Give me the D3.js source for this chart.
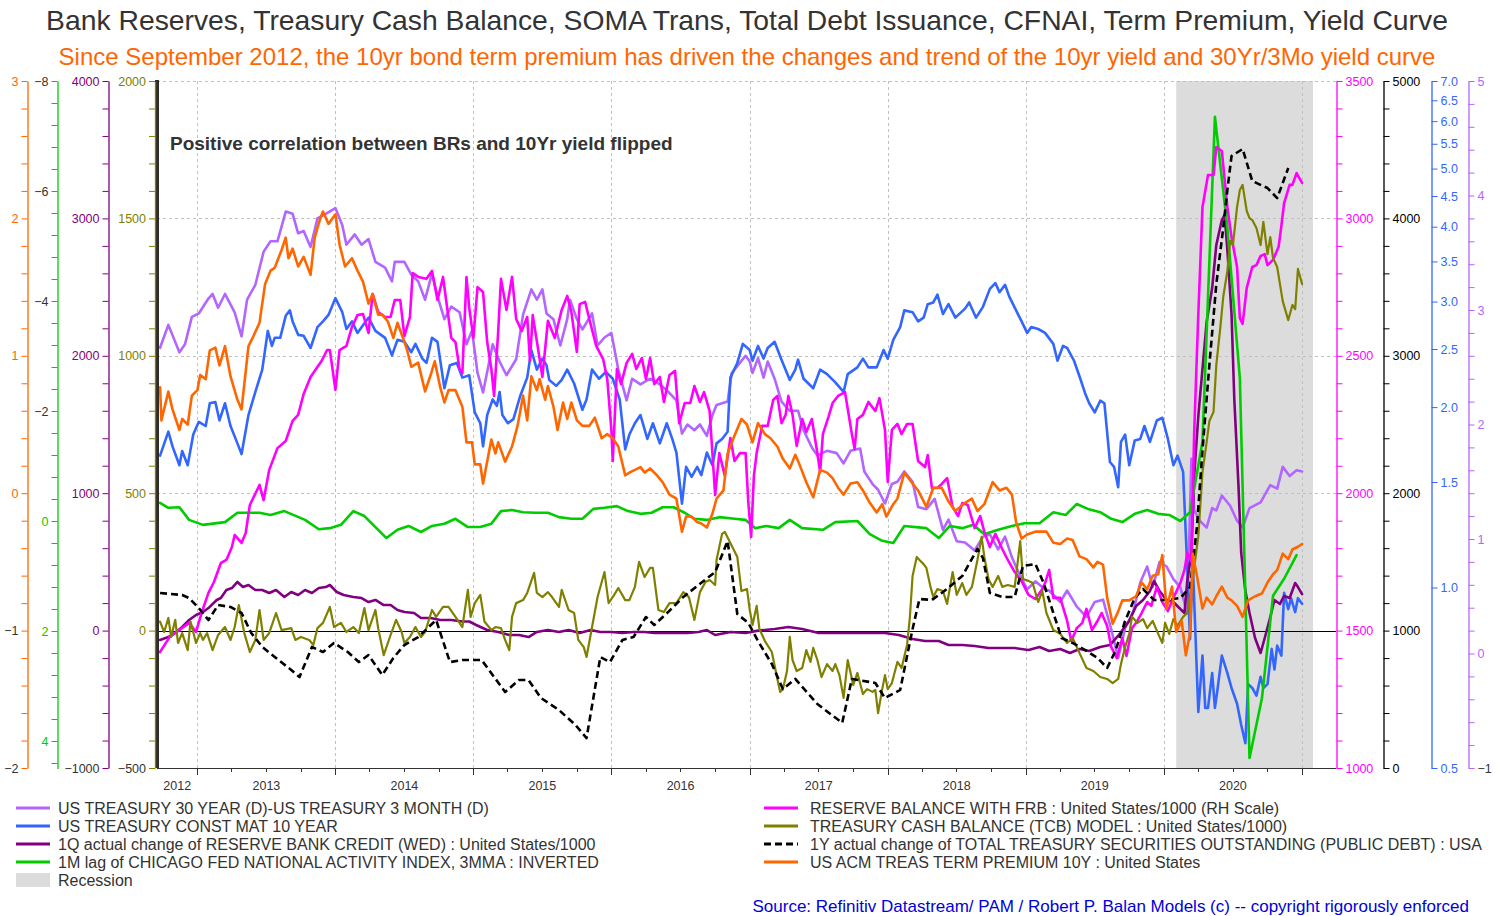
<!DOCTYPE html>
<html><head><meta charset="utf-8">
<script src="https://cdn.jsdelivr.net/npm/d3@7"></script>
<style>body{margin:0;background:#fff} svg text{font-family:"Liberation Sans",Arial,Helvetica,sans-serif}</style>
</head><body><svg id="chart" width="1495" height="916"></svg>
<script>
// ---------------- DATA (decimal year, value) ----------------
const yieldCurve30y3m = [[2012.73,2.67],[2012.79,2.87],[2012.87,2.63],[2012.91,2.70],[2012.96,2.94],[2013.01,2.97],[2013.08,3.10],[2013.11,3.14],[2013.15,3.02],[2013.20,3.14],[2013.27,2.98],[2013.32,2.77],[2013.36,3.09],[2013.42,3.22],[2013.48,3.51],[2013.53,3.60],[2013.58,3.60],[2013.64,3.86],[2013.69,3.84],[2013.73,3.67],[2013.77,3.69],[2013.82,3.55],[2013.87,3.80],[2013.93,3.84],[2014.00,3.89],[2014.05,3.74],[2014.08,3.57],[2014.14,3.66],[2014.19,3.57],[2014.24,3.62],[2014.29,3.42],[2014.36,3.37],[2014.41,3.25],[2014.43,3.42],[2014.50,3.42],[2014.55,3.31],[2014.60,3.25],[2014.65,3.09],[2014.70,3.32],[2014.74,3.12],[2014.79,2.92],[2014.84,3.03],[2014.90,2.98],[2014.95,2.70],[2014.99,2.82],[2015.03,2.45],[2015.07,2.28],[2015.14,2.70],[2015.19,2.55],[2015.24,2.43],[2015.31,2.57],[2015.36,2.96],[2015.42,3.18],[2015.46,3.09],[2015.50,3.18],[2015.53,2.97],[2015.58,2.92],[2015.63,2.69],[2015.68,2.92],[2015.70,3.09],[2015.75,2.92],[2015.79,2.83],[2015.86,2.97],[2015.90,2.69],[2015.95,2.76],[2016.00,2.80],[2016.05,2.48],[2016.11,2.21],[2016.15,2.40],[2016.21,2.35],[2016.28,2.40],[2016.35,2.35],[2016.40,2.30],[2016.47,2.21],[2016.51,1.92],[2016.55,2.00],[2016.60,1.95],[2016.64,2.00],[2016.69,1.90],[2016.73,2.08],[2016.76,2.17],[2016.84,2.20],[2016.87,2.45],[2016.93,2.54],[2016.97,2.60],[2017.00,2.55],[2017.02,2.45],[2017.06,2.58],[2017.10,2.41],[2017.13,2.55],[2017.18,2.40],[2017.23,2.20],[2017.29,2.12],[2017.35,2.12],[2017.39,1.95],[2017.45,1.80],[2017.49,1.73],[2017.56,1.77],[2017.63,1.75],[2017.68,1.66],[2017.73,1.77],[2017.80,1.79],[2017.83,1.59],[2017.89,1.48],[2017.93,1.43],[2017.98,1.31],[2018.03,1.48],[2018.07,1.50],[2018.12,1.59],[2018.18,1.50],[2018.22,1.28],[2018.28,1.26],[2018.34,1.35],[2018.40,1.08],[2018.44,1.17],[2018.50,0.98],[2018.56,0.97],[2018.63,0.90],[2018.69,1.02],[2018.74,1.04],[2018.80,0.91],[2018.85,1.02],[2018.90,0.84],[2018.94,0.73],[2019.01,0.56],[2019.07,0.63],[2019.14,0.56],[2019.17,0.55],[2019.25,0.45],[2019.30,0.55],[2019.37,0.41],[2019.44,0.32],[2019.50,0.45],[2019.56,0.47],[2019.62,0.21],[2019.67,-0.04],[2019.72,0.22],[2019.78,0.37],[2019.83,0.62],[2019.88,0.76],[2019.92,0.58],[2019.97,0.80],[2020.02,0.76],[2020.07,0.65],[2020.12,0.58],[2020.17,0.35],[2020.20,1.70],[2020.22,1.25],[2020.26,1.16],[2020.31,1.10],[2020.35,1.27],[2020.38,1.25],[2020.42,1.38],[2020.48,1.29],[2020.53,1.16],[2020.57,1.10],[2020.62,1.27],[2020.70,1.32],[2020.77,1.47],[2020.82,1.44],[2020.86,1.63],[2020.91,1.55],[2020.96,1.60],[2021.00,1.59]];

const ust10y = [[2012.73,1.66],[2012.79,1.82],[2012.82,1.72],[2012.87,1.60],[2012.89,1.69],[2012.93,1.60],[2012.97,1.80],[2013.01,1.89],[2013.06,1.86],[2013.09,2.03],[2013.13,2.04],[2013.16,1.90],[2013.20,2.03],[2013.24,1.86],[2013.29,1.74],[2013.32,1.67],[2013.37,1.94],[2013.42,2.12],[2013.47,2.31],[2013.51,2.68],[2013.54,2.53],[2013.56,2.61],[2013.60,2.61],[2013.64,2.84],[2013.67,2.90],[2013.69,2.78],[2013.73,2.64],[2013.77,2.63],[2013.82,2.51],[2013.87,2.72],[2013.91,2.78],[2013.95,2.85],[2014.00,3.04],[2014.05,2.88],[2014.08,2.70],[2014.12,2.78],[2014.16,2.66],[2014.20,2.74],[2014.24,2.82],[2014.29,2.68],[2014.36,2.61],[2014.41,2.44],[2014.45,2.59],[2014.50,2.57],[2014.55,2.47],[2014.58,2.55],[2014.63,2.41],[2014.66,2.37],[2014.70,2.61],[2014.74,2.57],[2014.79,2.15],[2014.83,2.35],[2014.88,2.37],[2014.92,2.24],[2014.97,2.26],[2015.01,1.96],[2015.05,1.88],[2015.07,1.72],[2015.10,1.94],[2015.14,2.06],[2015.17,2.01],[2015.19,2.12],[2015.21,1.94],[2015.25,1.88],[2015.29,1.91],[2015.34,2.09],[2015.39,2.24],[2015.42,2.49],[2015.46,2.31],[2015.50,2.41],[2015.53,2.35],[2015.55,2.22],[2015.60,2.17],[2015.64,2.22],[2015.68,2.31],[2015.73,2.19],[2015.79,1.98],[2015.82,2.06],[2015.86,2.31],[2015.91,2.23],[2015.96,2.29],[2016.01,2.23],[2016.06,2.06],[2016.10,1.70],[2016.13,1.80],[2016.17,1.88],[2016.21,1.94],[2016.26,1.77],[2016.30,1.88],[2016.35,1.74],[2016.40,1.88],[2016.44,1.77],[2016.47,1.68],[2016.51,1.38],[2016.54,1.59],[2016.58,1.53],[2016.62,1.59],[2016.65,1.54],[2016.69,1.68],[2016.73,1.60],[2016.76,1.74],[2016.80,1.77],[2016.84,1.82],[2016.86,2.24],[2016.91,2.37],[2016.95,2.55],[2017.00,2.49],[2017.02,2.39],[2017.06,2.53],[2017.10,2.41],[2017.13,2.51],[2017.18,2.57],[2017.23,2.40],[2017.29,2.22],[2017.33,2.31],[2017.35,2.40],[2017.39,2.23],[2017.46,2.15],[2017.51,2.31],[2017.56,2.27],[2017.62,2.20],[2017.68,2.12],[2017.71,2.27],[2017.78,2.33],[2017.82,2.41],[2017.86,2.33],[2017.92,2.33],[2017.97,2.49],[2018.00,2.41],[2018.04,2.59],[2018.09,2.72],[2018.12,2.90],[2018.18,2.88],[2018.22,2.78],[2018.26,2.82],[2018.29,2.97],[2018.33,2.99],[2018.36,3.08],[2018.40,2.86],[2018.44,2.97],[2018.49,2.82],[2018.56,2.92],[2018.59,2.99],[2018.64,2.82],[2018.69,2.94],[2018.74,3.15],[2018.78,3.22],[2018.81,3.11],[2018.85,3.20],[2018.88,3.06],[2018.93,2.90],[2018.97,2.78],[2019.01,2.66],[2019.04,2.72],[2019.09,2.70],[2019.14,2.66],[2019.20,2.55],[2019.23,2.39],[2019.27,2.53],[2019.30,2.51],[2019.35,2.39],[2019.39,2.25],[2019.43,2.11],[2019.46,2.03],[2019.50,1.96],[2019.54,2.05],[2019.57,2.03],[2019.61,1.62],[2019.64,1.59],[2019.67,1.47],[2019.69,1.75],[2019.72,1.80],[2019.75,1.60],[2019.79,1.76],[2019.83,1.77],[2019.86,1.86],[2019.90,1.75],[2019.95,1.90],[2019.99,1.92],[2020.03,1.77],[2020.07,1.60],[2020.10,1.66],[2020.14,1.56],[2020.17,1.08],[2020.19,0.82],[2020.21,1.10],[2020.25,0.62],[2020.28,0.77],[2020.30,0.63],[2020.32,0.63],[2020.35,0.72],[2020.37,0.63],[2020.39,0.68],[2020.42,0.77],[2020.46,0.72],[2020.49,0.68],[2020.53,0.64],[2020.56,0.59],[2020.59,0.55],[2020.61,0.69],[2020.64,0.68],[2020.67,0.66],[2020.70,0.71],[2020.72,0.68],[2020.75,0.69],[2020.78,0.79],[2020.80,0.73],[2020.82,0.80],[2020.85,0.77],[2020.87,0.98],[2020.90,0.92],[2020.92,0.96],[2020.95,0.91],[2020.97,0.96],[2021.00,0.94]];

const reserveBankCredit1Q = [[2012.73,-68],[2012.79,-47],[2012.84,-17],[2012.89,26],[2012.94,77],[2012.99,114],[2013.04,135],[2013.08,164],[2013.14,223],[2013.17,237],[2013.21,295],[2013.25,310],[2013.29,354],[2013.33,317],[2013.37,332],[2013.42,295],[2013.47,295],[2013.52,274],[2013.57,295],[2013.63,245],[2013.68,281],[2013.73,259],[2013.78,295],[2013.83,274],[2013.88,310],[2013.93,317],[2013.96,332],[2014.01,281],[2014.06,259],[2014.13,245],[2014.19,237],[2014.24,208],[2014.29,223],[2014.35,186],[2014.40,186],[2014.45,150],[2014.50,135],[2014.57,128],[2014.62,92],[2014.69,92],[2014.76,77],[2014.84,77],[2014.92,66],[2014.97,66],[2015.02,41],[2015.10,4],[2015.18,-10],[2015.26,-32],[2015.33,-32],[2015.40,-47],[2015.46,-10],[2015.54,4],[2015.62,-10],[2015.69,4],[2015.77,-17],[2015.85,4],[2015.92,-10],[2016.00,-10],[2016.08,-17],[2016.16,-10],[2016.24,-10],[2016.31,-17],[2016.39,-17],[2016.47,-17],[2016.55,-17],[2016.63,-10],[2016.69,4],[2016.75,-32],[2016.86,-10],[2016.97,-17],[2017.06,0],[2017.18,12],[2017.28,26],[2017.38,12],[2017.50,-17],[2017.62,-17],[2017.74,-17],[2017.86,-17],[2017.98,-17],[2018.08,-32],[2018.18,-61],[2018.27,-76],[2018.37,-76],[2018.44,-105],[2018.54,-105],[2018.63,-112],[2018.73,-127],[2018.83,-127],[2018.92,-127],[2019.02,-141],[2019.10,-119],[2019.17,-148],[2019.25,-134],[2019.32,-163],[2019.39,-134],[2019.46,-148],[2019.54,-119],[2019.61,-105],[2019.68,-25],[2019.75,70],[2019.80,179],[2019.85,223],[2019.90,288],[2019.93,361],[2019.97,288],[2020.02,223],[2020.07,208],[2020.12,157],[2020.15,128],[2020.17,361],[2020.20,565],[2020.22,1125],[2020.25,1562],[2020.28,1904],[2020.31,2246],[2020.35,2493],[2020.38,2806],[2020.42,2988],[2020.44,3025],[2020.46,2770],[2020.49,2304],[2020.51,1686],[2020.54,1060],[2020.56,565],[2020.59,288],[2020.62,128],[2020.66,-54],[2020.70,-163],[2020.73,-54],[2020.77,99],[2020.80,223],[2020.84,194],[2020.87,252],[2020.91,237],[2020.95,346],[2020.97,317],[2021.00,266]];

const cfnai3mmaInv = [[2012.73,-0.33],[2012.79,-0.24],[2012.87,-0.25],[2012.94,-0.02],[2013.04,0.07],[2013.20,0.02],[2013.29,-0.15],[2013.45,-0.15],[2013.53,-0.11],[2013.63,-0.18],[2013.78,-0.02],[2013.88,0.15],[2013.96,0.13],[2014.04,0.07],[2014.13,-0.18],[2014.21,-0.09],[2014.29,0.11],[2014.37,0.31],[2014.45,0.16],[2014.53,0.09],[2014.62,0.20],[2014.70,0.09],[2014.79,0.05],[2014.87,-0.04],[2014.96,0.11],[2015.05,0.11],[2015.13,0.05],[2015.20,-0.18],[2015.28,-0.20],[2015.36,-0.16],[2015.45,-0.15],[2015.54,-0.15],[2015.62,-0.07],[2015.71,-0.04],[2015.79,-0.04],[2015.87,-0.22],[2015.95,-0.24],[2016.04,-0.27],[2016.12,-0.18],[2016.21,-0.13],[2016.29,-0.15],[2016.37,-0.25],[2016.45,-0.25],[2016.53,-0.15],[2016.60,-0.04],[2016.69,-0.02],[2016.78,-0.07],[2016.89,-0.04],[2016.97,-0.02],[2017.04,0.13],[2017.12,0.09],[2017.21,0.13],[2017.29,-0.02],[2017.38,0.13],[2017.53,0.16],[2017.62,0.02],[2017.78,0.00],[2017.87,0.24],[2017.96,0.36],[2018.04,0.40],[2018.12,0.09],[2018.28,0.13],[2018.37,0.31],[2018.45,0.09],[2018.54,0.13],[2018.62,0.07],[2018.70,0.24],[2018.80,0.16],[2018.90,0.09],[2018.99,0.04],[2019.10,0.04],[2019.20,-0.16],[2019.29,-0.11],[2019.37,-0.31],[2019.45,-0.22],[2019.54,-0.16],[2019.62,-0.04],[2019.70,0.02],[2019.79,-0.13],[2019.88,-0.20],[2019.96,-0.13],[2020.04,-0.11],[2020.12,0.00],[2020.19,-0.16],[2020.28,-1.44],[2020.37,-7.35],[2020.46,-5.33],[2020.55,-2.60],[2020.62,4.31],[2020.71,3.22],[2020.79,1.36],[2020.87,1.05],[2020.96,0.62]];

const reserveBalances = [[2012.73,1422],[2012.80,1477],[2012.87,1502],[2012.94,1528],[2012.99,1495],[2013.03,1564],[2013.08,1637],[2013.12,1677],[2013.17,1746],[2013.21,1757],[2013.25,1804],[2013.27,1848],[2013.32,1819],[2013.35,1855],[2013.38,1957],[2013.45,2030],[2013.48,1975],[2013.52,2084],[2013.58,2164],[2013.64,2190],[2013.69,2263],[2013.73,2285],[2013.77,2361],[2013.82,2423],[2013.87,2459],[2013.90,2481],[2013.94,2521],[2013.96,2521],[2014.00,2376],[2014.03,2521],[2014.08,2536],[2014.12,2605],[2014.16,2648],[2014.20,2652],[2014.24,2583],[2014.27,2725],[2014.31,2659],[2014.36,2641],[2014.40,2641],[2014.43,2703],[2014.47,2703],[2014.50,2572],[2014.54,2641],[2014.56,2801],[2014.60,2787],[2014.66,2780],[2014.70,2809],[2014.74,2703],[2014.78,2787],[2014.81,2674],[2014.84,2565],[2014.87,2550],[2014.90,2452],[2014.92,2437],[2014.95,2787],[2014.97,2674],[2015.00,2565],[2015.03,2750],[2015.07,2732],[2015.10,2550],[2015.13,2452],[2015.15,2354],[2015.18,2590],[2015.20,2780],[2015.24,2667],[2015.28,2787],[2015.31,2634],[2015.35,2590],[2015.39,2641],[2015.41,2481],[2015.43,2648],[2015.47,2521],[2015.50,2423],[2015.54,2627],[2015.59,2565],[2015.64,2667],[2015.68,2718],[2015.71,2659],[2015.75,2514],[2015.77,2688],[2015.81,2696],[2015.84,2634],[2015.89,2536],[2015.94,2488],[2015.97,2416],[2016.00,2230],[2016.01,2117],[2016.04,2452],[2016.07,2397],[2016.11,2474],[2016.15,2507],[2016.18,2452],[2016.22,2492],[2016.25,2416],[2016.28,2492],[2016.31,2397],[2016.35,2423],[2016.38,2332],[2016.42,2430],[2016.46,2445],[2016.49,2255],[2016.53,2328],[2016.57,2328],[2016.60,2390],[2016.64,2332],[2016.67,2368],[2016.71,2299],[2016.75,1993],[2016.78,2146],[2016.82,2063],[2016.86,2201],[2016.89,2117],[2016.93,2146],[2016.97,2146],[2016.99,1964],[2017.01,1841],[2017.03,2063],[2017.05,2146],[2017.09,2245],[2017.13,2245],[2017.17,2339],[2017.20,2354],[2017.23,2255],[2017.26,2285],[2017.28,2354],[2017.31,2285],[2017.34,2172],[2017.38,2270],[2017.41,2223],[2017.45,2270],[2017.49,2146],[2017.51,2077],[2017.53,2215],[2017.57,2277],[2017.60,2328],[2017.64,2354],[2017.69,2368],[2017.74,2215],[2017.76,2161],[2017.78,2270],[2017.82,2285],[2017.86,2332],[2017.91,2299],[2017.94,2346],[2017.98,2230],[2018.00,2041],[2018.03,2230],[2018.07,2252],[2018.10,2215],[2018.14,2252],[2018.18,2252],[2018.22,2117],[2018.27,2095],[2018.29,2139],[2018.32,2019],[2018.36,2019],[2018.39,2033],[2018.43,2055],[2018.47,1950],[2018.51,1917],[2018.54,1964],[2018.58,1957],[2018.63,1873],[2018.67,1917],[2018.70,1859],[2018.74,1804],[2018.78,1852],[2018.83,1797],[2018.87,1757],[2018.92,1713],[2018.97,1680],[2019.02,1630],[2019.07,1615],[2019.12,1651],[2019.14,1673],[2019.17,1721],[2019.20,1619],[2019.25,1619],[2019.30,1535],[2019.33,1462],[2019.37,1509],[2019.41,1528],[2019.44,1579],[2019.48,1502],[2019.52,1535],[2019.55,1564],[2019.59,1517],[2019.62,1440],[2019.66,1400],[2019.70,1473],[2019.73,1408],[2019.77,1509],[2019.80,1528],[2019.84,1564],[2019.88,1604],[2019.91,1590],[2019.95,1659],[2019.99,1604],[2020.03,1571],[2020.07,1619],[2020.12,1673],[2020.15,1721],[2020.17,1782],[2020.20,1750],[2020.22,2219],[2020.25,2652],[2020.28,3041],[2020.32,3158],[2020.36,3158],[2020.38,3260],[2020.42,3245],[2020.46,3041],[2020.49,2932],[2020.53,2823],[2020.55,2638],[2020.57,2616],[2020.60,2747],[2020.64,2823],[2020.67,2830],[2020.70,2863],[2020.73,2870],[2020.75,2830],[2020.79,2849],[2020.83,2896],[2020.85,2972],[2020.87,3056],[2020.91,3122],[2020.93,3122],[2020.96,3165],[2021.00,3129]];

const treasuryCashModel = [[2012.73,33],[2012.76,-5],[2012.79,46],[2012.81,-23],[2012.84,39],[2012.86,-45],[2012.89,-9],[2012.93,-71],[2012.95,33],[2012.99,-45],[2013.02,-9],[2013.04,-34],[2013.07,-9],[2013.11,-71],[2013.15,-16],[2013.20,13],[2013.24,-34],[2013.27,13],[2013.30,93],[2013.34,-9],[2013.38,-78],[2013.42,-34],[2013.45,75],[2013.48,-34],[2013.52,-9],[2013.57,64],[2013.61,2],[2013.68,9],[2013.71,-34],[2013.75,-23],[2013.81,-34],[2013.84,-52],[2013.87,9],[2013.91,28],[2013.96,86],[2013.99,13],[2014.04,28],[2014.08,-5],[2014.13,13],[2014.17,-9],[2014.21,82],[2014.24,2],[2014.29,75],[2014.31,9],[2014.35,-89],[2014.40,-16],[2014.44,39],[2014.48,-5],[2014.50,-45],[2014.54,-23],[2014.58,13],[2014.62,-23],[2014.65,-5],[2014.70,75],[2014.73,50],[2014.78,86],[2014.82,86],[2014.87,50],[2014.92,13],[2014.96,148],[2014.98,50],[2015.01,100],[2015.05,130],[2015.08,33],[2015.13,2],[2015.16,13],[2015.20,9],[2015.23,-34],[2015.26,-71],[2015.28,50],[2015.31,100],[2015.36,111],[2015.39,137],[2015.44,210],[2015.46,137],[2015.50,122],[2015.54,140],[2015.57,122],[2015.62,86],[2015.64,148],[2015.69,75],[2015.73,64],[2015.76,-34],[2015.80,-60],[2015.82,-96],[2015.86,13],[2015.90,122],[2015.95,213],[2015.98,100],[2016.02,130],[2016.05,155],[2016.10,111],[2016.13,111],[2016.17,159],[2016.20,250],[2016.24,195],[2016.28,228],[2016.30,228],[2016.34,75],[2016.38,68],[2016.42,100],[2016.47,100],[2016.52,140],[2016.56,122],[2016.60,39],[2016.64,140],[2016.68,177],[2016.71,184],[2016.75,166],[2016.76,257],[2016.80,352],[2016.82,359],[2016.86,319],[2016.91,268],[2016.94,144],[2016.98,151],[2017.00,75],[2017.02,20],[2017.05,90],[2017.07,6],[2017.11,-38],[2017.16,-78],[2017.20,-176],[2017.22,-223],[2017.24,-213],[2017.27,-147],[2017.29,-23],[2017.31,-107],[2017.34,-147],[2017.38,-136],[2017.41,-71],[2017.44,-114],[2017.46,-63],[2017.49,-107],[2017.52,-169],[2017.56,-122],[2017.60,-147],[2017.62,-122],[2017.65,-162],[2017.68,-245],[2017.71,-107],[2017.75,-198],[2017.78,-154],[2017.82,-231],[2017.85,-213],[2017.89,-223],[2017.91,-216],[2017.93,-300],[2017.96,-213],[2017.98,-162],[2018.00,-213],[2018.03,-191],[2018.07,-114],[2018.10,-136],[2018.14,-52],[2018.16,46],[2018.18,199],[2018.21,268],[2018.23,257],[2018.26,242],[2018.28,228],[2018.31,159],[2018.33,122],[2018.36,151],[2018.40,144],[2018.43,97],[2018.47,213],[2018.50,130],[2018.54,173],[2018.57,130],[2018.61,159],[2018.65,257],[2018.68,341],[2018.70,268],[2018.73,188],[2018.76,159],[2018.80,199],[2018.83,159],[2018.87,166],[2018.92,159],[2018.96,326],[2018.98,188],[2019.02,181],[2019.05,173],[2019.09,104],[2019.12,144],[2019.15,64],[2019.20,2],[2019.25,-12],[2019.30,-45],[2019.34,-27],[2019.39,-82],[2019.44,-136],[2019.49,-147],[2019.54,-169],[2019.59,-176],[2019.63,-191],[2019.67,-176],[2019.69,-122],[2019.72,-60],[2019.75,-12],[2019.77,50],[2019.81,28],[2019.85,42],[2019.88,9],[2019.92,35],[2019.96,-12],[2019.99,-45],[2020.01,28],[2020.04,-12],[2020.07,42],[2020.10,17],[2020.14,50],[2020.17,64],[2020.21,188],[2020.25,344],[2020.28,577],[2020.31,686],[2020.33,763],[2020.36,796],[2020.38,967],[2020.41,1108],[2020.43,1214],[2020.46,1309],[2020.48,1418],[2020.50,1403],[2020.53,1541],[2020.55,1603],[2020.57,1622],[2020.60,1527],[2020.62,1501],[2020.64,1494],[2020.67,1465],[2020.70,1403],[2020.72,1487],[2020.75,1370],[2020.77,1432],[2020.79,1356],[2020.82,1323],[2020.84,1261],[2020.86,1199],[2020.90,1130],[2020.93,1185],[2020.95,1170],[2020.97,1316],[2021.00,1261]];

const publicDebt1Y = [[2012.73,1274],[2012.89,1259],[2012.94,1237],[2013.01,1164],[2013.08,1077],[2013.15,1186],[2013.24,1172],[2013.32,1128],[2013.39,983],[2013.47,881],[2013.57,801],[2013.68,713],[2013.74,662],[2013.83,881],[2013.91,844],[2013.99,910],[2014.09,844],[2014.17,771],[2014.24,822],[2014.34,677],[2014.42,801],[2014.50,895],[2014.60,953],[2014.73,1077],[2014.83,771],[2014.92,786],[2015.06,786],[2015.23,553],[2015.33,640],[2015.40,640],[2015.49,509],[2015.62,422],[2015.74,313],[2015.82,218],[2015.92,808],[2015.99,771],[2016.08,932],[2016.16,953],[2016.25,1099],[2016.31,1041],[2016.41,1135],[2016.52,1245],[2016.63,1332],[2016.75,1426],[2016.84,1652],[2016.91,1121],[2016.99,1055],[2017.06,924],[2017.16,757],[2017.24,575],[2017.33,648],[2017.49,466],[2017.67,328],[2017.74,648],[2017.91,619],[2017.98,509],[2018.09,568],[2018.18,1012],[2018.23,1230],[2018.32,1223],[2018.41,1288],[2018.54,1397],[2018.65,1594],[2018.69,1528],[2018.74,1274],[2018.83,1245],[2018.92,1245],[2018.98,1470],[2019.07,1485],[2019.13,1346],[2019.20,1128],[2019.26,946],[2019.34,910],[2019.44,852],[2019.52,801],[2019.59,728],[2019.65,852],[2019.72,1070],[2019.79,1237],[2019.85,1303],[2019.93,1223],[2020.02,1223],[2020.12,1237],[2020.19,1317],[2020.24,1754],[2020.28,2314],[2020.33,2933],[2020.38,3522],[2020.43,3930],[2020.46,4207],[2020.49,4454],[2020.57,4505],[2020.64,4272],[2020.75,4221],[2020.82,4148],[2020.90,4367]];

const termPremium10y = [[2012.73,0.77],[2012.74,0.53],[2012.79,0.74],[2012.82,0.61],[2012.87,0.46],[2012.89,0.54],[2012.93,0.50],[2012.96,0.71],[2013.00,0.75],[2013.02,0.86],[2013.06,0.83],[2013.09,1.04],[2013.13,1.06],[2013.16,0.93],[2013.20,1.07],[2013.24,0.85],[2013.29,0.68],[2013.32,0.61],[2013.37,1.07],[2013.40,1.13],[2013.45,1.24],[2013.49,1.52],[2013.53,1.62],[2013.56,1.64],[2013.61,1.77],[2013.64,1.86],[2013.66,1.71],[2013.69,1.78],[2013.73,1.65],[2013.77,1.72],[2013.82,1.59],[2013.85,1.86],[2013.89,2.00],[2013.91,2.05],[2013.95,1.96],[2014.00,2.03],[2014.03,1.81],[2014.07,1.65],[2014.12,1.71],[2014.16,1.62],[2014.20,1.54],[2014.24,1.38],[2014.27,1.45],[2014.31,1.30],[2014.34,1.30],[2014.38,1.25],[2014.42,1.13],[2014.45,1.24],[2014.49,1.13],[2014.52,1.04],[2014.55,0.92],[2014.60,0.95],[2014.65,0.74],[2014.69,0.86],[2014.72,0.96],[2014.76,0.77],[2014.79,0.66],[2014.82,0.75],[2014.87,0.75],[2014.92,0.63],[2014.95,0.37],[2014.99,0.37],[2015.01,0.21],[2015.05,0.21],[2015.07,0.07],[2015.10,0.23],[2015.13,0.39],[2015.16,0.29],[2015.18,0.37],[2015.23,0.23],[2015.28,0.34],[2015.32,0.49],[2015.36,0.71],[2015.39,0.53],[2015.42,0.85],[2015.46,0.75],[2015.48,0.83],[2015.52,0.68],[2015.54,0.78],[2015.58,0.63],[2015.61,0.46],[2015.65,0.66],[2015.68,0.54],[2015.71,0.66],[2015.75,0.53],[2015.79,0.49],[2015.84,0.49],[2015.88,0.55],[2015.93,0.40],[2015.97,0.43],[2016.01,0.40],[2016.05,0.34],[2016.10,0.13],[2016.13,0.15],[2016.17,0.17],[2016.21,0.19],[2016.24,0.15],[2016.28,0.18],[2016.33,0.13],[2016.37,0.08],[2016.42,-0.01],[2016.47,-0.04],[2016.51,-0.28],[2016.54,-0.17],[2016.58,-0.17],[2016.62,-0.21],[2016.65,-0.22],[2016.69,-0.25],[2016.73,-0.15],[2016.76,-0.04],[2016.81,0.02],[2016.84,0.29],[2016.89,0.42],[2016.94,0.54],[2016.98,0.50],[2017.02,0.37],[2017.06,0.51],[2017.11,0.43],[2017.15,0.40],[2017.20,0.34],[2017.24,0.25],[2017.29,0.18],[2017.33,0.28],[2017.36,0.21],[2017.41,0.08],[2017.46,-0.03],[2017.51,0.17],[2017.56,0.15],[2017.60,0.11],[2017.64,0.04],[2017.68,-0.01],[2017.73,0.07],[2017.78,0.08],[2017.82,0.02],[2017.87,-0.07],[2017.92,-0.14],[2017.96,-0.08],[2017.99,-0.17],[2018.04,-0.08],[2018.07,-0.04],[2018.12,0.15],[2018.18,0.07],[2018.22,0.02],[2018.28,-0.10],[2018.33,0.04],[2018.39,0.04],[2018.44,-0.06],[2018.49,-0.13],[2018.56,-0.07],[2018.61,-0.04],[2018.65,-0.13],[2018.70,-0.08],[2018.76,0.08],[2018.81,0.02],[2018.86,0.04],[2018.90,-0.01],[2018.93,-0.21],[2018.97,-0.33],[2019.01,-0.30],[2019.07,-0.28],[2019.15,-0.28],[2019.20,-0.36],[2019.25,-0.37],[2019.30,-0.33],[2019.34,-0.34],[2019.39,-0.46],[2019.44,-0.48],[2019.49,-0.54],[2019.52,-0.50],[2019.56,-0.52],[2019.59,-0.76],[2019.63,-0.95],[2019.67,-0.86],[2019.70,-0.78],[2019.75,-0.78],[2019.80,-0.75],[2019.84,-0.65],[2019.88,-0.70],[2019.92,-0.60],[2019.96,-0.59],[2019.99,-0.45],[2020.02,-0.84],[2020.06,-0.68],[2020.09,-1.01],[2020.13,-0.93],[2020.16,-1.18],[2020.19,-1.02],[2020.21,-0.44],[2020.24,-0.60],[2020.28,-0.84],[2020.31,-0.76],[2020.35,-0.81],[2020.38,-0.75],[2020.42,-0.68],[2020.46,-0.76],[2020.49,-0.78],[2020.53,-0.82],[2020.57,-0.90],[2020.61,-0.78],[2020.66,-0.75],[2020.71,-0.73],[2020.75,-0.65],[2020.79,-0.59],[2020.82,-0.56],[2020.86,-0.44],[2020.90,-0.48],[2020.93,-0.41],[2020.97,-0.39],[2021.00,-0.37]];

const recession = [2020.09, 2021.079];
const timeDomain = [2012.708, 2021.079];
const yearLabels = [2012, 2013, 2014, 2015, 2016, 2017, 2018, 2019, 2020];

// tick label lists
const tpLabels = [3, 2, 1, 0, -1, -2];
const cfnaiLabels = [-8, -6, -4, -2, 0, 2, 4];
const rbcLabels = [4000, 3000, 2000, 1000, 0, -1000];
const tcbLabels = [2000, 1500, 1000, 500, 0, -500];
const rbLabels = [3500, 3000, 2500, 2000, 1500, 1000];
const pdLabels = [5000, 4000, 3000, 2000, 1000, 0];
const ust10Labels = [7.0, 6.5, 6.0, 5.5, 5.0, 4.5, 4.0, 3.5, 3.0, 2.5, 2.0, 1.5, 1.0, 0.5];
const ycLabels = [5, 4, 3, 2, 1, 0, -1];

const title = "Bank Reserves, Treasury Cash Balance, SOMA Trans, Total Debt Issuance, CFNAI, Term Premium, Yield Curve";
const subtitle = "Since September 2012, the 10yr bond term premium has driven the changes and trend of the 10yr yield and 30Yr/3Mo yield curve";
const note = "Positive correlation between BRs and 10Yr yield flipped";
const source = "Source: Refinitiv Datastream/ PAM / Robert P. Balan Models (c) -- copyright rigorously enforced";

// ---------------- CHART ----------------
const C = {lp:"#B266FF", blue:"#3366FF", purple:"#800080", green:"#00CC00", magenta:"#FF00FF", olive:"#808000", black:"#000000", orange:"#FF6600", rec:"#DCDCDC", txt:"#333333"};
const svg = d3.select("#chart");
const T = 81, B = 768, L = 157, R = 1313, RA = 1336;

function dec(t){ const y=Math.floor(t); const a=Date.UTC(y,0,1), b=Date.UTC(y+1,0,1); return new Date(a+(t-y)*(b-a)); }

const x = d3.scaleUtc().domain(timeDomain.map(dec)).range([L, R]);
const yTP = d3.scaleLinear().domain([-2, 3]).range([B, T]);
const yCF = d3.scaleLinear().domain([-8, 4.5]).range([T, B + 0.5]);
const yRBC = d3.scaleLinear().domain([-1000, 4000]).range([B, T]);
const yTCB = d3.scaleLinear().domain([-500, 2000]).range([B, T]);
const yRB = d3.scaleLinear().domain([1000, 3500]).range([B, T]);
const yPD = d3.scaleLinear().domain([0, 5000]).range([B, T]);
const y10 = d3.scaleLog().domain([0.5, 7]).range([B, T]);
const yYC = d3.scaleLinear().domain([-1, 5]).range([B, T]);

// recession band
svg.append("rect").attr("x", x(dec(recession[0]))).attr("y", T)
  .attr("width", x(dec(recession[1])) - x(dec(recession[0]))).attr("height", B - T).attr("fill", C.rec);

// grid
const grid = svg.append("g").attr("stroke", "#c0c0c0").attr("stroke-width", 1).attr("stroke-dasharray", "3,3");
[3500, 3000, 2500, 2000].forEach(v => {
  grid.append("line").attr("x1", L).attr("x2", RA).attr("y1", Math.round(yRB(v)) + 0.5).attr("y2", Math.round(yRB(v)) + 0.5);
});
d3.range(2013, 2022).forEach(yr => {
  const xx = Math.round(x(dec(yr))) + 0.5;
  grid.append("line").attr("x1", xx).attr("x2", xx).attr("y1", T).attr("y2", B);
});

// zero line
svg.append("line").attr("x1", L).attr("x2", RA).attr("y1", Math.round(yRBC(0)) + 0.5).attr("y2", Math.round(yRBC(0)) + 0.5)
  .attr("stroke", "#000").attr("stroke-width", 1);

// series
function draw(data, ys, color, w, dash) {
  const line = d3.line().x(d => x(dec(d[0]))).y(d => ys(d[1]));
  const p = svg.append("path").datum(data).attr("d", line).attr("fill", "none")
    .attr("stroke", color).attr("stroke-width", w).attr("stroke-linejoin", "round").attr("stroke-linecap", "round");
  if (dash) p.attr("stroke-dasharray", dash).attr("stroke-linecap", "butt");
}
draw(yieldCurve30y3m, yYC, C.lp, 2.6);
draw(ust10y, y10, C.blue, 2.6);
draw(reserveBankCredit1Q, yRBC, C.purple, 2.6);
draw(cfnai3mmaInv, yCF, C.green, 2.6);
draw(reserveBalances, yRB, C.magenta, 2.6);
draw(treasuryCashModel, yTCB, C.olive, 2.2);
draw(publicDebt1Y, yPD, C.black, 2.6, "7,4");
draw(termPremium10y, yTP, C.orange, 2.6);

// thick left bar
svg.append("rect").attr("x", 155).attr("y", T - 1).attr("width", 4).attr("height", B - T + 1).attr("fill", "#2d2d2d");

// x axis
svg.append("line").attr("x1", L).attr("x2", RA).attr("y1", B + 0.5).attr("y2", B + 0.5).attr("stroke", "#333").attr("stroke-width", 1.2);
const qTicks = d3.utcMonth.every(3).range(dec(2012.75), dec(2021.08));
qTicks.forEach(d => {
  const major = d.getUTCMonth() === 0;
  const xx = Math.round(x(d)) + 0.5;
  svg.append("line").attr("x1", xx).attr("x2", xx).attr("y1", B).attr("y2", B + (major ? 7 : 4)).attr("stroke", "#333");
});
yearLabels.forEach(yr => {
  const a = Math.max(x(dec(yr)), L), b = Math.min(x(dec(yr + 1)), R);
  svg.append("text").attr("x", (a + b) / 2).attr("y", 790).attr("text-anchor", "middle")
    .attr("font-size", 12.5).attr("fill", C.txt).text(yr);
});

// y axes
function yAxis(scale, xPos, side, color, all, labels, fmt) {
  const isMajor = v => labels.some(l => Math.abs(l - v) < 1e-6);
  const ax = (side === "left" ? d3.axisLeft(scale) : d3.axisRight(scale))
    .tickValues(all).tickSize(6).tickSizeOuter(0).tickPadding(3)
    .tickFormat(v => isMajor(v) ? fmt(v) : "");
  const g = svg.append("g").attr("transform", `translate(${xPos},0)`).call(ax);
  g.select(".domain").attr("stroke", color).attr("stroke-width", 1.3);
  g.selectAll(".tick line").attr("stroke", color);
  g.selectAll(".tick text").attr("font-size", 12.5).attr("font-family", "Liberation Sans, Arial, sans-serif")
    .attr("fill", v => (v < 0 ? C.txt : color));
  return g;
}
const rng = (a, b, s) => d3.range(0, Math.round((b - a) / s) + 1).map(i => +(a + i * s).toFixed(4));
yAxis(yTP, 27.5, "left", C.orange, rng(-2, 3, 0.2), tpLabels, d3.format("d"));
yAxis(yCF, 57.5, "left", C.green, rng(-8, 4.4, 0.4), cfnaiLabels, d3.format("d"));
yAxis(yRBC, 108.5, "left", C.purple, rng(-1000, 4000, 200), rbcLabels, d3.format("d"));
yAxis(yTCB, 155, "left", C.olive, rng(-500, 2000, 100), tcbLabels, d3.format("d"));
yAxis(yRB, RA + 0.5, "right", C.magenta, rng(1000, 3500, 100), rbLabels, d3.format("d"));
yAxis(yPD, 1383.5, "right", C.black, rng(0, 5000, 200), pdLabels, d3.format("d"));
yAxis(y10, 1431.5, "right", C.blue, ust10Labels, ust10Labels, d3.format(".1f"));
yAxis(yYC, 1468.5, "right", C.lp, rng(-1, 5, 0.2), ycLabels, d3.format("d"));

// titles
svg.append("text").attr("x", 747).attr("y", 30).attr("text-anchor", "middle").attr("font-size", 28.3).attr("fill", C.txt).text(title);
svg.append("text").attr("x", 747).attr("y", 65).attr("text-anchor", "middle").attr("font-size", 24).attr("fill", C.orange).text(subtitle);
svg.append("text").attr("x", 170).attr("y", 150).attr("font-size", 19).attr("font-weight", "bold").attr("fill", C.txt).text(note);

// legend
const legendLeft = [
  {label:"US TREASURY 30 YEAR (D)-US TREASURY 3 MONTH (D)", color:C.lp},
  {label:"US TREASURY CONST MAT 10 YEAR", color:C.blue},
  {label:"1Q actual change of RESERVE BANK CREDIT (WED) : United States/1000", color:C.purple},
  {label:"1M lag of CHICAGO FED NATIONAL ACTIVITY INDEX, 3MMA : INVERTED", color:C.green},
  {label:"Recession", color:C.rec, box:true}
];
const legendRight = [
  {label:"RESERVE BALANCE WITH FRB : United States/1000 (RH Scale)", color:C.magenta},
  {label:"TREASURY CASH BALANCE (TCB) MODEL : United States/1000)", color:C.olive},
  {label:"1Y actual change of TOTAL TREASURY SECURITIES OUTSTANDING (PUBLIC DEBT) : USA", color:C.black, dash:"7,4"},
  {label:"US ACM TREAS TERM PREMIUM 10Y : United States", color:C.orange}
];
function legend(items, x0, x1, tx) {
  items.forEach((it, i) => {
    const cy = 808 + i * 18;
    if (it.box) {
      svg.append("rect").attr("x", x0).attr("y", cy - 7).attr("width", x1 - x0).attr("height", 14).attr("fill", it.color);
    } else {
      const l = svg.append("line").attr("x1", x0).attr("x2", x1).attr("y1", cy).attr("y2", cy)
        .attr("stroke", it.color).attr("stroke-width", 3);
      if (it.dash) l.attr("stroke-dasharray", it.dash);
    }
    svg.append("text").attr("x", tx).attr("y", cy + 6).attr("font-size", 16).attr("fill", C.txt).text(it.label);
  });
}
legend(legendLeft, 16, 50, 58);
legend(legendRight, 764, 798, 810);
svg.append("text").attr("x", 1469).attr("y", 912).attr("text-anchor", "end").attr("font-size", 17).attr("fill", "#0000DD").text(source);
</script></body></html>
